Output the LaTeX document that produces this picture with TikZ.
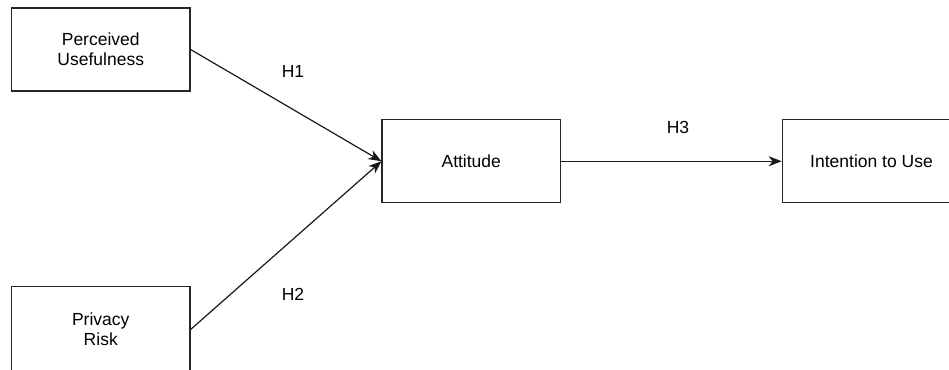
\documentclass[tikz,border=0pt]{standalone}
\usepackage{fontspec}
\setmainfont{Liberation Sans}
\usetikzlibrary{arrows.meta}
\begin{document}
\begin{tikzpicture}[x=1pt,y=-1pt,
  box/.style={draw=black!85,line width=1.2pt,minimum width=178.5pt,minimum height=83pt,inner sep=0pt,align=center,
    font=\fontsize{17.5}{20}\selectfont},
  conn/.style={draw=black!90,line width=1.2pt,-{Stealth[length=13pt,width=10pt,inset=4pt]}},
  lbl/.style={font=\fontsize{17.5}{20}\selectfont,inner sep=0pt}]
\useasboundingbox (0,0) rectangle (949,369);
\clip (0,0) rectangle (949,369);
\node[box] (pu) at (100.75,49.5) {Perceived\\Usefulness};
\node[box,minimum height=86pt] (pr) at (100.75,329.5) {Privacy\\Risk};
\node[box] (at) at (471.25,161.25) {Attitude};
\node[box] (iu) at (871.5,161.25) {Intention to Use};
\draw[conn] (pu.east) -- (at.west);
\draw[conn] (pr.east) -- (at.west);
\draw[conn] (at.east) -- (iu.west);
\node[lbl] (h1) at (293,71) {H1};
\node[lbl] (h2) at (293,294) {H2};
\node[lbl] (h3) at (678,127) {H3};
\end{tikzpicture}
\end{document}
